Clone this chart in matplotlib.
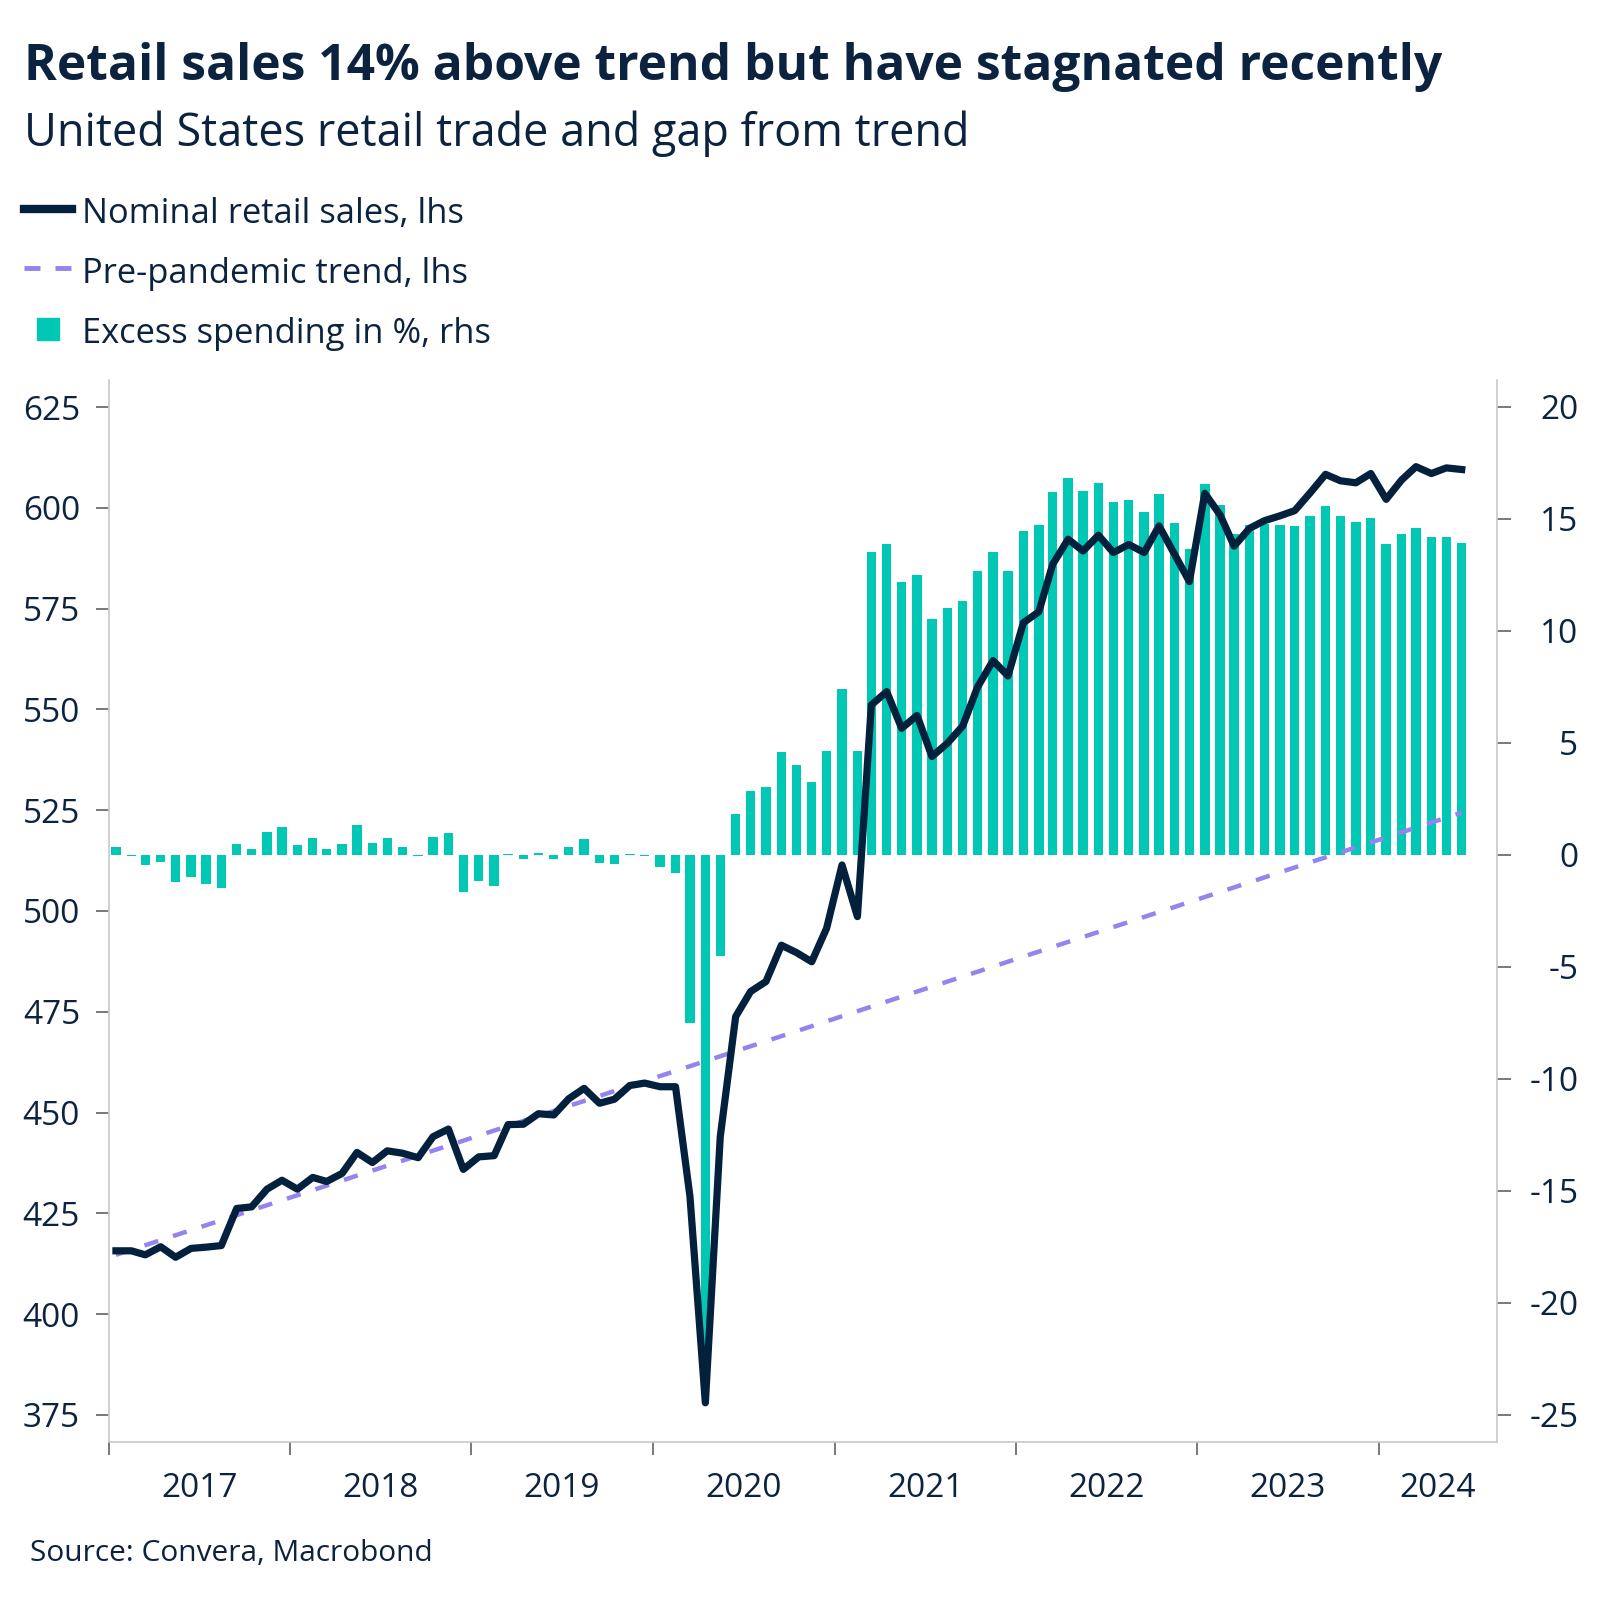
import matplotlib
matplotlib.use("Agg")
import matplotlib.pyplot as plt
import matplotlib.dates as mdates
from matplotlib.lines import Line2D
from matplotlib.patches import Rectangle
import pandas as pd

# monthly data, Jan 2017 .. Jun 2024
months = pd.date_range("2017-01-01", periods=90, freq="MS")

# nominal retail sales, lhs (USD bn)
sales = [415.7, 415.7, 414.7, 416.7, 414.1, 416.3, 416.6, 417.0, 426.2, 426.6, 431.0, 433.2,
         431.0, 433.9, 432.9, 434.9, 440.1, 437.6, 440.5, 439.9, 438.8, 444.0, 445.9, 435.9,
         439.0, 439.3, 447.0, 447.1, 449.7, 449.4, 453.4, 456.0, 452.3, 453.3, 456.7, 457.3,
         456.4, 456.4, 429.2, 378.0, 444.0, 473.8, 480.0, 482.5, 491.5, 489.7, 487.4, 495.7,
         511.4, 498.6, 551.1, 554.4, 545.3, 548.5, 538.3, 541.6, 545.9, 555.6, 562.1, 558.3,
         571.5, 574.2, 586.0, 592.2, 589.3, 593.2, 588.9, 590.9, 588.9, 595.5, 588.5, 581.7,
         603.6, 598.2, 590.5, 594.9, 596.8, 598.0, 599.3, 603.7, 608.3, 606.7, 606.2, 608.5,
         602.1, 606.9, 610.2, 608.5, 609.9, 609.5]

# excess spending vs trend in %, rhs
excess = [0.33, -0.05, -0.46, -0.33, -1.20, -1.01, -1.28, -1.46, 0.49, 0.27, 1.03, 1.24,
          0.42, 0.76, 0.27, 0.49, 1.35, 0.55, 0.77, 0.37, -0.04, 0.80, 0.97, -1.65,
          -1.16, -1.37, 0.03, -0.19, 0.10, -0.18, 0.37, 0.73, -0.37, -0.40, 0.02, -0.07,
          -0.54, -0.82, -7.49, -22.0, -4.51, 1.83, 2.86, 3.04, 4.58, 4.00, 3.27, 4.64,
          7.39, 4.64, 13.54, 13.87, 12.19, 12.51, 10.51, 11.00, 11.35, 12.69, 13.50, 12.66,
          14.46, 14.73, 16.18, 16.83, 16.24, 16.59, 15.77, 15.83, 15.32, 16.10, 14.82, 13.66,
          16.56, 15.63, 14.32, 14.73, 14.78, 14.73, 14.69, 15.15, 15.58, 15.13, 14.85, 15.03,
          13.87, 14.33, 14.60, 14.18, 14.18, 13.91]

# pre-pandemic trend, straight line between first and last month
trend_months = ["2017-01-01", "2024-06-01"]
trend_values = [414.7, 524.4]

years = ["2017", "2018", "2019", "2020", "2021", "2022", "2023", "2024"]

NAVY = "#0c2340"
LINE = "#03203d"
TEAL = "#00c8b5"
PURPLE = "#9384ee"
SPINE = "#c8c8c8"
TICK = "#555555"

plt.rcParams["font.family"] = ["Open Sans", "DejaVu Sans"]
plt.rcParams["axes.unicode_minus"] = False
plt.rcParams["lines.scale_dashes"] = False

W, H = 1600, 1603
fig = plt.figure(figsize=(W / 100, H / 100), dpi=100)
ax = fig.add_axes([108.5 / W, 1 - 1441.5 / H, (1496.5 - 108.5) / W, (1441.5 - 380) / H])
ax2 = ax.twinx()

x = months + pd.Timedelta(days=15)
tx = pd.to_datetime(trend_months) + pd.Timedelta(days=15)

ax2.bar(x, excess, width=19, color=TEAL, linewidth=0)
ax.plot(x, sales, color=LINE, lw=5.2, solid_joinstyle="round", zorder=3)
ax.plot(tx, trend_values, color=PURPLE, lw=3.2, dashes=(10.4, 11.2), zorder=2)

# lines above the bars
ax.set_zorder(ax2.get_zorder() + 1)
ax.patch.set_visible(False)

xmin, xmax = pd.Timestamp("2017-01-01"), pd.Timestamp("2024-08-25")
ax.set_xlim(xmin, xmax)
ax.set_ylim(368.4, 631.7)
ax2.set_ylim(-26.19, 21.2)
ax.set_yticks(range(375, 626, 25))
ax2.set_yticks(range(-25, 21, 5))

# year boundaries as major ticks, labels centred in each year
ax.xaxis.set_major_locator(mdates.YearLocator())
ax.xaxis.set_major_formatter(plt.NullFormatter())
mids = []
for y in years:
    s = pd.Timestamp(y + "-01-01")
    e = min(pd.Timestamp(str(int(y) + 1) + "-01-01"), xmax)
    mids.append(s + (e - s) / 2)
ax.set_xticks(mids, minor=True)
ax.set_xticklabels(years, minor=True)

for a in (ax, ax2):
    a.spines["top"].set_visible(False)
    for s in ("left", "right", "bottom"):
        a.spines[s].set_color(SPINE)
        a.spines[s].set_linewidth(1.2)
ax.spines["right"].set_visible(False)
ax2.spines["left"].set_visible(False)
ax2.spines["bottom"].set_visible(False)

ax.tick_params(axis="x", which="major", length=9.5, width=1.1, color=TICK)
ax.tick_params(axis="x", which="minor", length=0, pad=22, labelsize=24, labelcolor=NAVY)
ax.tick_params(axis="y", length=9.5, width=1.1, color=TICK, pad=11, labelsize=24, labelcolor=NAVY)
ax2.tick_params(axis="y", length=10, width=1.1, color=TICK, pad=49, labelsize=24, labelcolor=NAVY)
for lab in ax2.get_yticklabels():
    lab.set_horizontalalignment("right")

# title block
fig.text(24.5 / W, 1 - 80 / H, "Retail sales 14% above trend but have stagnated recently",
         fontsize=35.8, fontweight="bold", color=NAVY, va="baseline")
fig.text(24.5 / W, 1 - 146 / H, "United States retail trade and gap from trend",
         fontsize=32.4, color=NAVY, va="baseline")

# legend drawn by hand
fig.add_artist(Line2D([24 / W, 72 / W], [1 - 209 / H] * 2, color=LINE, lw=6))
fig.add_artist(Line2D([24 / W, 72 / W], [1 - 268 / H] * 2, color=PURPLE, lw=3.5, dashes=(11.5, 10.8)))
fig.add_artist(Rectangle((37 / W, 1 - 340 / H), 21.5 / W, 22 / H, color=TEAL, transform=fig.transFigure))
for yb, txt in [(223, "Nominal retail sales, lhs"), (283, "Pre-pandemic trend, lhs"),
                (343, "Excess spending in %, rhs")]:
    fig.text(81.7 / W, 1 - yb / H, txt, fontsize=24.8, color=NAVY, va="baseline")

fig.text(30 / W, 1 - 1561 / H, "Source: Convera, Macrobond", fontsize=21.5, color=NAVY, va="baseline")

fig.savefig("out.png", dpi=100)
